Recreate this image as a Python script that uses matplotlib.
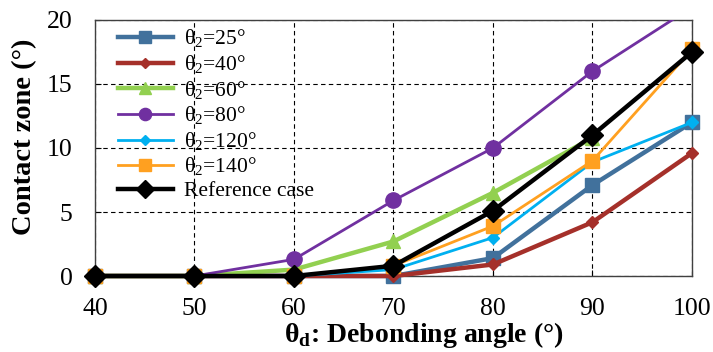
import matplotlib
matplotlib.use("Agg")
from matplotlib import pyplot as plt

# debonding angle (deg)
angles = [40, 50, 60, 70, 80, 90, 100]

# contact zone (deg) for each theta_2 case
cz_25 = [0, 0, 0, 0, 1.4, 7.1, 12.0]
cz_40 = [0, 0, 0, 0, 0.9, 4.2, 9.6]
cz_60 = [0, 0, 0.5, 2.7, 6.5, 10.8]
cz_80 = [0, 0, 1.3, 5.9, 10.0, 16.0, 21.0]
cz_120 = [0, 0, 0, 0.5, 3.0, 8.9, 12.0]
cz_140 = [0, 0, 0, 0.8, 3.9, 9.0, 17.7]
cz_ref = [0, 0, 0, 0.8, 5.1, 11.0, 17.5]

labels = ["θ$_2$=25°", "θ$_2$=40°", "θ$_2$=60°", "θ$_2$=80°",
          "θ$_2$=120°", "θ$_2$=140°", "Reference case"]

plt.rcParams['font.family'] = ['Liberation Serif', 'DejaVu Serif']
plt.rcParams['mathtext.fontset'] = 'custom'
plt.rcParams['mathtext.rm'] = 'Liberation Serif'
plt.rcParams['mathtext.bf'] = 'Liberation Serif:bold'

fig = plt.figure(figsize=(7.13, 3.52), dpi=100)
ax = fig.add_axes([0.1332, 0.2159, 0.8373, 0.7273])

common = dict(clip_on=False)
ax.plot(angles, cz_25, color='#41719C', lw=3.2, marker='s', ms=10, label=labels[0], zorder=3, **common)
ax.plot(angles, cz_40, color='#A5302A', lw=3.2, marker='D', ms=6.5, label=labels[1], zorder=3, **common)
ax.plot(angles[:len(cz_60)], cz_60, color='#92D050', lw=3.2, marker='^', ms=10, label=labels[2], zorder=3, **common)
ax.plot(angles, cz_80, color='#7030A0', lw=2, marker='o', ms=11, label=labels[3], zorder=3, clip_on=True)
ax.plot(angles, cz_120, color='#00B0F0', lw=2, marker='D', ms=6.5, label=labels[4], zorder=3, **common)
ax.plot(angles, cz_140, color='#FFA020', lw=2, marker='s', ms=10, label=labels[5], zorder=3, **common)
ax.plot(angles, cz_ref, color='black', lw=3.2, marker='D', ms=11, label=labels[6], zorder=4, **common)

ax.set_xlim(40, 100)
ax.set_ylim(0, 20)
ax.set_xticks(angles)
ax.set_yticks([0, 5, 10, 15, 20])
ax.grid(True, color='black', ls=(0, (4, 3)), lw=0.8)
ax.tick_params(labelsize=18.5, direction='in', length=4, pad=16)
for s in ax.spines.values():
    s.set_linewidth(1)
    s.set_color('#404040')

ax.set_xlabel("θ$_\\mathbf{d}$: Debonding angle (°)", fontsize=20, fontweight='bold')
ax.set_ylabel("Contact zone (°)", fontsize=20.5, fontweight='bold')
ax.xaxis.set_label_coords(0.551, -0.172)
ax.yaxis.set_label_coords(-0.097, 0.543)

leg = ax.legend(loc='upper left', bbox_to_anchor=(0.0385, 0.97), frameon=False, fontsize=15.5,
                handlelength=2.55, labelspacing=0.14, borderaxespad=0, borderpad=0,
                handletextpad=0.5, markerscale=0.8)
leg.set_zorder(10)

fig.savefig("out.png", dpi=100)
